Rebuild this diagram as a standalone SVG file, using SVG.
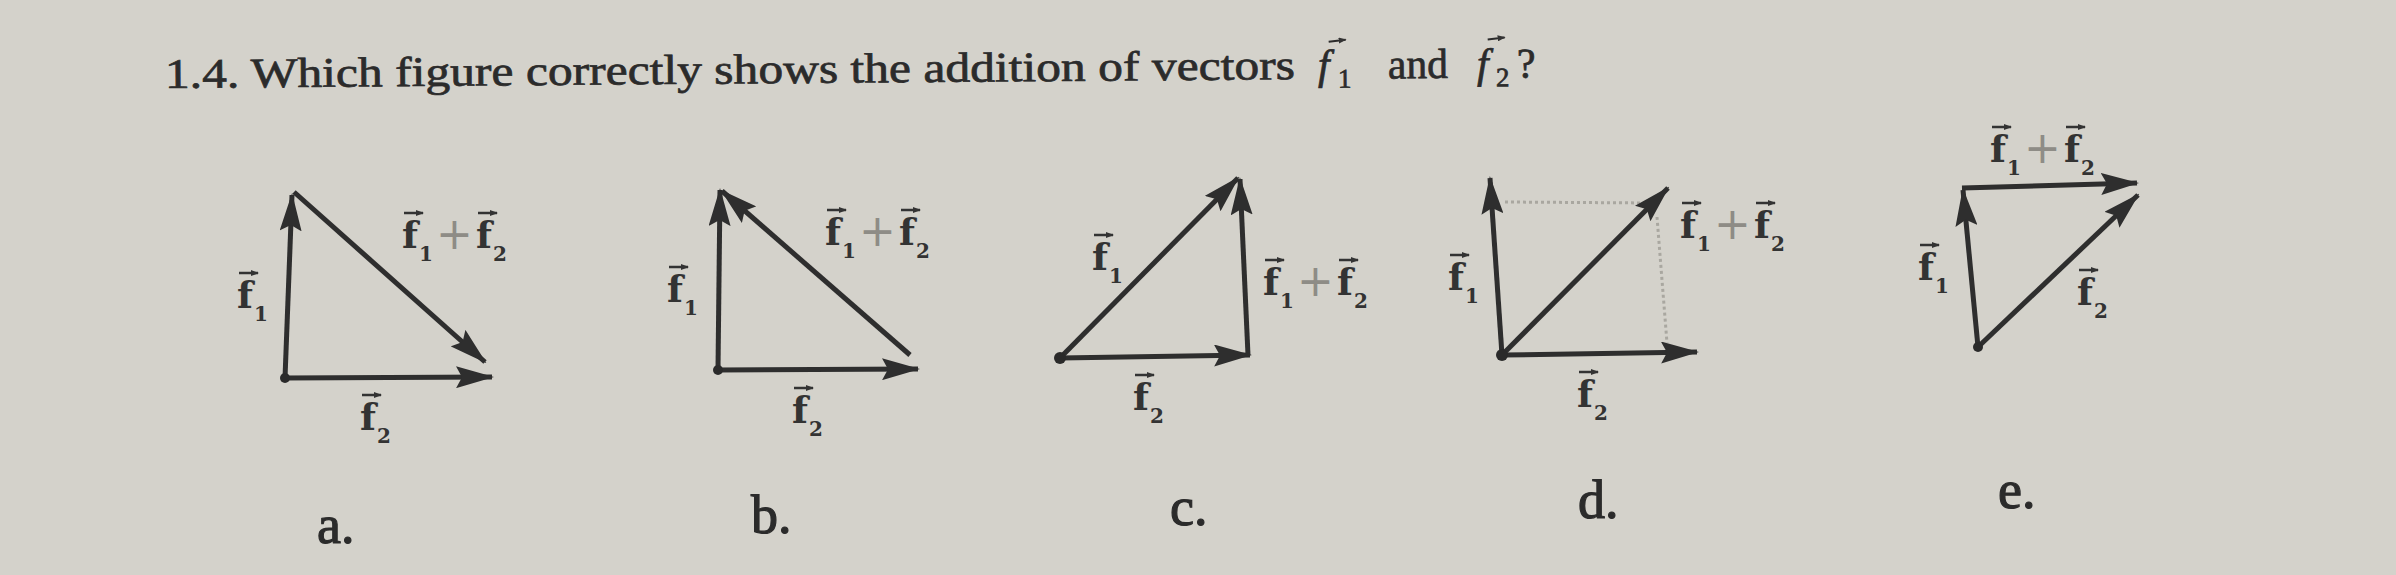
<svg xmlns="http://www.w3.org/2000/svg" width="2396" height="575" viewBox="0 0 2396 575">
<defs>
<marker id="ah" viewBox="0 0 38 22" refX="36" refY="11" markerWidth="38" markerHeight="22" markerUnits="userSpaceOnUse" orient="auto">
<path d="M0,0 L38,11 L0,22 L6,11 z" fill="#2e2e2e"/>
</marker>
<marker id="sm" viewBox="0 0 8 6" refX="7" refY="3" markerWidth="8" markerHeight="6" markerUnits="userSpaceOnUse" orient="auto">
<path d="M0,0 L8,3 L0,6 z" fill="#333"/>
</marker>
<style>
.bg{fill:#d4d2cb}
.vec{stroke:#2e2e2e;stroke-width:5;fill:none;marker-end:url(#ah)}
.dot{fill:#2a2a2a}
.dotted{stroke:#a9a7a0;stroke-width:3;stroke-dasharray:3 3;fill:none}
.title{font-family:"Liberation Serif",serif;font-size:42px;fill:#2b2b2b;stroke:#2b2b2b;stroke-width:0.7}
.it{font-style:italic}
.sub{font-size:27px}
.opt{font-family:"Liberation Serif",serif;font-size:54px;fill:#2b2b2b;stroke:#2b2b2b;stroke-width:1.2}
.lf{font-family:"DejaVu Serif",serif;font-weight:bold;font-size:37px;fill:#333}
.ls{font-family:"DejaVu Serif",serif;font-weight:bold;font-size:20px;fill:#333}
.plus{font-family:"DejaVu Sans",sans-serif;font-size:44px;fill:#8e8c86}
.ov{stroke:#333;stroke-width:2.5;fill:none;marker-end:url(#sm)}
.tov{stroke:#2b2b2b;stroke-width:2;fill:none;marker-end:url(#sm)}
</style>
<g id="lab1">
<text class="lf" x="0" y="0">f</text><text class="ls" x="17" y="13">1</text>
<path class="ov" d="M2,-35 h19"/>
</g>
<g id="lab2">
<text class="lf" x="0" y="0">f</text><text class="ls" x="17" y="13">2</text>
<path class="ov" d="M2,-35 h19"/>
</g>
<g id="labsum">
<text class="lf" x="0" y="0">f</text><text class="ls" x="17" y="13">1</text>
<path class="ov" d="M2,-35 h19"/>
<text class="plus" x="34" y="1">+</text>
<text class="lf" x="74" y="0">f</text><text class="ls" x="91" y="13">2</text>
<path class="ov" d="M76,-35 h19"/>
</g>
</defs>
<rect class="bg" x="0" y="0" width="2396" height="575"/>

<g id="title" transform="rotate(-0.45 165 88)">
<text class="title" x="165" y="88" textLength="1130" lengthAdjust="spacingAndGlyphs">1.4. Which figure correctly shows the addition of vectors</text>
<text class="title it" x="1318" y="88">f</text><text class="title sub" x="1338" y="97">1</text>
<path class="tov" d="M1329,51 L1346,49"/>
<text class="title" x="1388" y="88" textLength="60" lengthAdjust="spacingAndGlyphs">and</text>
<text class="title it" x="1477" y="88">f</text><text class="title sub" x="1496" y="97">2</text>
<path class="tov" d="M1488,50 L1505,48"/>
<text class="title" x="1517" y="88">?</text>
</g>

<g id="connectors">
<!-- a -->
<path class="vec" d="M285,378 L292,195"/>
<path class="vec" d="M285,378 L492,377"/>
<path class="vec" d="M294,192 L485,362"/>
<!-- b -->
<path class="vec" d="M718,370 L720,190"/>
<path class="vec" d="M718,370 L918,369"/>
<path class="vec" d="M910,355 L722,191"/>
<!-- c -->
<path class="vec" d="M1060,358 L1238,178"/>
<path class="vec" d="M1060,358 L1250,355"/>
<path class="vec" d="M1248,355 L1240,179"/>
<!-- d -->
<path class="dotted" d="M1505,202 L1650,203"/>
<path class="dotted" d="M1657,217 L1667,343"/>
<path class="vec" d="M1502,355 L1490,178"/>
<path class="vec" d="M1502,355 L1697,352"/>
<path class="vec" d="M1502,355 L1668,188"/>
<!-- e -->
<path class="vec" d="M1978,347 L1963,190"/>
<path class="vec" d="M1962,188 L2137,183"/>
<path class="vec" d="M1978,347 L2138,195"/>
</g>

<g id="fig-a">
<circle class="dot" cx="285" cy="378" r="5"/>
<use href="#lab1" x="237" y="308"/>
<use href="#lab2" x="360" y="430"/>
<use href="#labsum" x="402" y="248"/>
<text class="opt" x="317" y="543">a.</text>
</g>
<g id="fig-b">
<circle class="dot" cx="718" cy="370" r="5"/>
<use href="#lab1" x="667" y="302"/>
<use href="#lab2" x="792" y="423"/>
<use href="#labsum" x="825" y="245"/>
<text class="opt" x="751" y="533">b.</text>
</g>
<g id="fig-c">
<circle class="dot" cx="1060" cy="358" r="6"/>
<use href="#lab1" x="1092" y="270"/>
<use href="#lab2" x="1133" y="410"/>
<use href="#labsum" x="1263" y="295"/>
<text class="opt" x="1170" y="525">c.</text>
</g>
<g id="fig-d">
<circle class="dot" cx="1502" cy="355" r="6"/>
<use href="#lab1" x="1448" y="290"/>
<use href="#lab2" x="1577" y="407"/>
<use href="#labsum" x="1680" y="238"/>
<text class="opt" x="1578" y="518">d.</text>
</g>
<g id="fig-e">
<circle class="dot" cx="1978" cy="347" r="5"/>
<use href="#lab1" x="1918" y="280"/>
<use href="#lab2" x="2077" y="305"/>
<use href="#labsum" x="1990" y="162"/>
<text class="opt" x="1998" y="508">e.</text>
</g>
</svg>
